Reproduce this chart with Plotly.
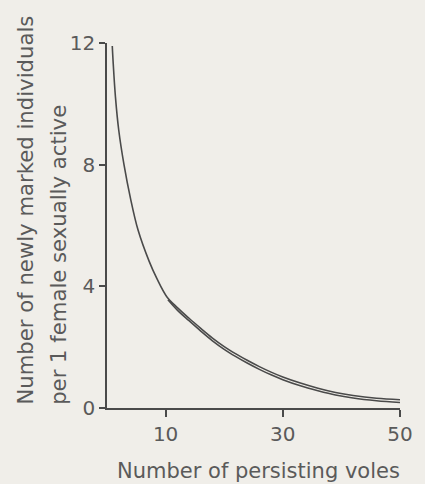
import plotly.graph_objects as go

# Main curve (full range)
main_x = [0.9, 1.06, 1.44, 2.0, 2.9, 4.0, 5.3, 7.2, 8.5, 10.2, 12, 14, 16, 18, 20, 22, 24, 26, 28, 30, 33, 36, 39, 42, 46, 50]
main_y = [11.9, 11.33, 10.23, 9.14, 8.0, 6.9, 5.85, 4.82, 4.26, 3.66, 3.3, 2.95, 2.62, 2.3, 2.02, 1.78, 1.56, 1.36, 1.18, 1.02, 0.82, 0.65, 0.51, 0.41, 0.32, 0.27]

# Second curve (starts near x = 10)
second_x = [10.4, 12, 14, 16, 18, 20, 22, 24, 26, 28, 30, 33, 36, 39, 42, 46, 50]
second_y = [3.56, 3.22, 2.87, 2.53, 2.21, 1.93, 1.69, 1.47, 1.27, 1.09, 0.93, 0.73, 0.57, 0.43, 0.33, 0.24, 0.18]

x_ticks = [10, 30, 50]
y_ticks = [0, 4, 8, 12]

paper = "#f0eee9"
ink = "#4a4a4a"
text_col = "#5a5a5a"
font = "DejaVu Sans"

fig = go.Figure()
fig.add_trace(go.Scatter(x=main_x, y=main_y, mode="lines",
                         line=dict(color=ink, width=1.6, shape="spline", smoothing=1),
                         showlegend=False, hoverinfo="skip"))
fig.add_trace(go.Scatter(x=second_x, y=second_y, mode="lines",
                         line=dict(color=ink, width=1.6, shape="spline", smoothing=1),
                         showlegend=False, hoverinfo="skip"))

W, H = 425, 484
L, R, T, B = 107, 14, 43, 76
pw, ph = W - L - R, H - T - B

def px_x(px):
    return (px - L) / pw

def px_y(py):
    return (H - B - py) / ph

fig.update_layout(
    width=W, height=H,
    margin=dict(l=L, r=R, t=T, b=B),
    paper_bgcolor=paper, plot_bgcolor=paper,
    font=dict(family=font, color=text_col, size=20),
    xaxis=dict(range=[0, 50], tickvals=x_ticks, ticktext=[str(v) for v in x_ticks],
               showgrid=False, zeroline=False, showline=True, linecolor=ink, linewidth=1.5,
               ticks="outside", ticklen=7, tickwidth=1.5, tickcolor=ink,
               tickfont=dict(size=20, color=text_col)),
    yaxis=dict(range=[0, 12], tickvals=y_ticks, ticktext=[str(v) for v in y_ticks],
               showgrid=False, zeroline=False, showline=True, linecolor=ink, linewidth=1.5,
               ticks="outside", ticklen=6, tickwidth=1.5, tickcolor=ink,
               tickfont=dict(size=20, color=text_col)),
    annotations=[
        dict(text="Number of persisting voles", xref="paper", yref="paper",
             x=px_x(413), y=px_y(471), xanchor="right", yanchor="middle",
             showarrow=False, font=dict(size=21, color=text_col, family=font)),
        dict(text="Number of newly marked individuals", xref="paper", yref="paper",
             x=px_x(22), y=px_y(407), xanchor="center", yanchor="bottom", textangle=-90,
             showarrow=False, font=dict(size=21.2, color=text_col, family=font)),
        dict(text="per 1 female sexually active", xref="paper", yref="paper",
             x=px_x(56), y=px_y(407), xanchor="center", yanchor="bottom", textangle=-90,
             showarrow=False, font=dict(size=21.2, color=text_col, family=font)),
    ],
)

fig.write_html("out.html")
